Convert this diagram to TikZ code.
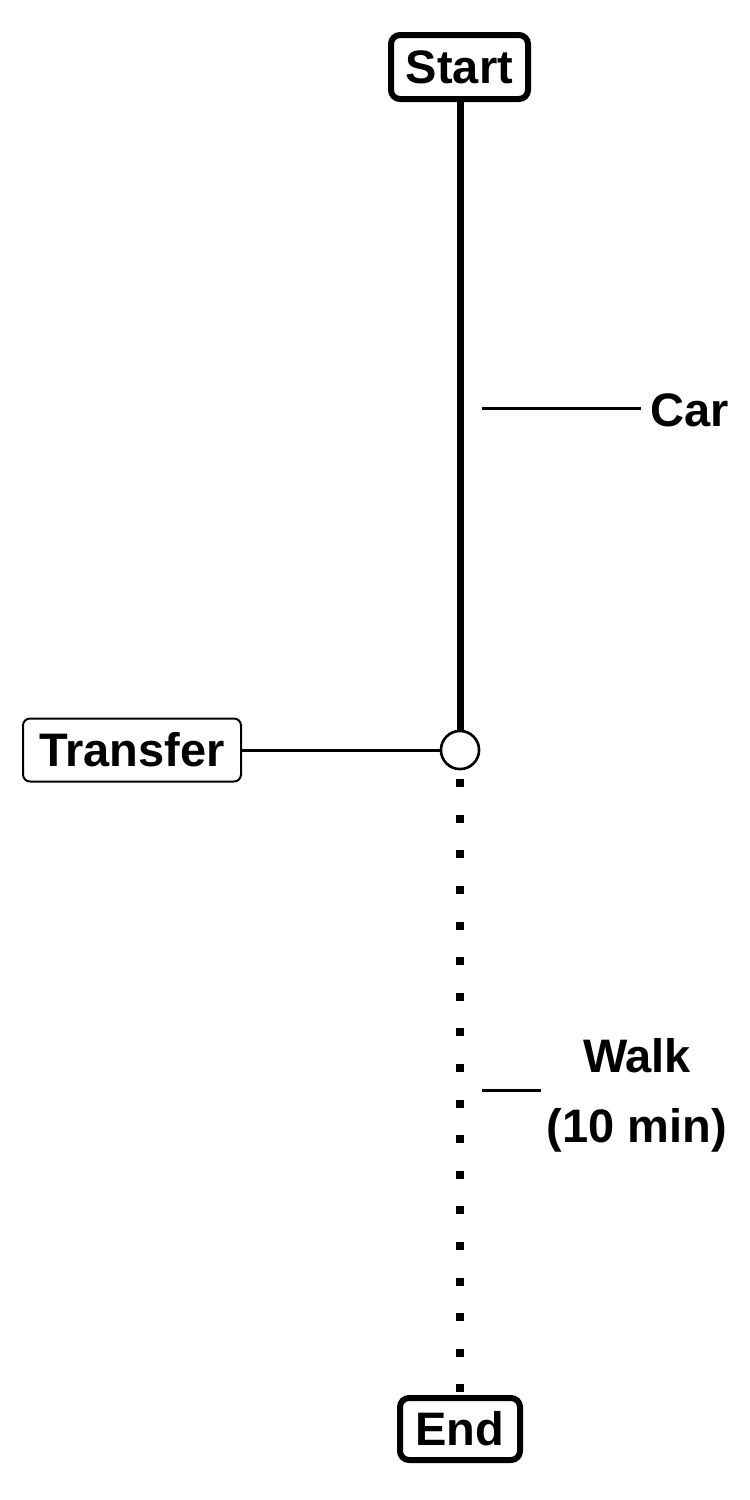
\documentclass[tikz,border=0pt]{standalone}
\usepackage{fontspec}
\setmainfont{Liberation Sans}
\begin{document}
\begin{tikzpicture}[x=1pt,y=-1pt,
  lbl/.style={font=\fontsize{47}{70}\selectfont\bfseries, inner sep=0pt},
  endpoint/.style={lbl, draw, line width=6pt, rounded corners=9pt, fill=white},
  hub/.style={lbl, draw, line width=2pt, rounded corners=7pt, fill=white},
  stop/.style={circle, draw, line width=2.5pt, fill=white, minimum size=38pt, inner sep=0pt},
  tick/.style={line width=3pt},
  carleg/.style={line width=7pt},
  walkleg/.style={line width=8pt, dash pattern=on 8pt off 27.6pt}]
  \useasboundingbox (0,0) rectangle (750,1500);

  % stations
  \node[endpoint, minimum width=137pt, minimum height=64pt] (start) at (459.5,67) {Start};
  \node[endpoint, minimum width=120pt, minimum height=62pt] (end) at (460,1429) {End};
  \node[stop] (xfer) at (460,750) {};
  \node[hub, minimum width=218pt, minimum height=63pt] (xferlbl) at (132,750) {Transfer};

  % legs
  \draw[carleg] (start.south -| xfer.north) -- (xfer.north);
  \draw[walkleg] ([yshift=-9pt]xfer.south) -- (end.north);
  \node[stop] at (xfer) {};
  \draw[tick] (xferlbl.east) -- (xfer.west);

  % leg labels
  \node[lbl, anchor=west] (car) at (650,410) {Car};
  \coordinate (carA) at (482,408);
  \coordinate (carB) at (641,408);
  \draw[tick] (carA) -- (carB);
  \node[lbl, align=center] (walk) at (637,1095) {Walk\\(10 min)};
  \coordinate (walkA) at (482,1090);
  \coordinate (walkB) at (541,1090);
  \draw[tick] (walkA) -- (walkB);
\end{tikzpicture}
\end{document}
